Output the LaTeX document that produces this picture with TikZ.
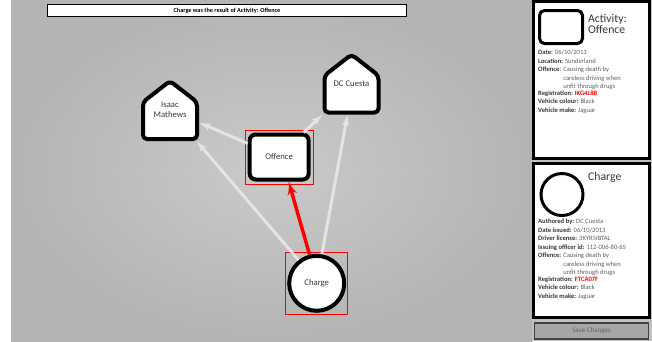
\documentclass[tikz,border=0pt]{standalone}
\usepackage{fontspec}
\setmainfont{Carlito}
\usetikzlibrary{arrows, positioning, shapes.geometric}

\definecolor{canvasgrey}{RGB}{180,180,180}
\definecolor{canvaslight}{RGB}{202,202,202}
\definecolor{sidegrey}{RGB}{192,192,192}
\definecolor{edgegrey}{RGB}{228,228,228}
\definecolor{labelgrey}{RGB}{55,55,55}
\definecolor{valuegrey}{RGB}{95,95,95}
\definecolor{buttongrey}{RGB}{166,166,166}

\newcommand{\infolab}[1]{\textbf{\textcolor{labelgrey}{#1}}}
\newcommand{\housenode}[4]{%
  \draw[housebox] (#2-27,#3+29) -- (#2-27,#3-8) -- (#2,#3-29) -- (#2+27,#3-8) -- (#2+27,#3+29) -- cycle;
  \node[housetext] (#1) at (#2,#3) {#4};}

\begin{document}
\begin{tikzpicture}[
  x=1pt, y=-1pt,
  nodebox/.style={draw=black, line width=4pt, fill=white, font=\fontsize{8.7}{10}\selectfont, text=labelgrey},
  housebox/.style={draw=black, line width=4pt, fill=white, rounded corners=4pt, line join=round},
  housetext/.style={minimum width=58pt, minimum height=62pt, inner sep=0pt, align=center, font=\fontsize{8.7}{10}\selectfont, text=labelgrey},
  selbox/.style={draw=red, line width=1pt},
  link/.style={color=edgegrey, line width=3pt},
  panel/.style={draw=black, line width=3pt, fill=white},
  panelhead/.style={anchor=north west, inner sep=0pt, align=left, font=\fontsize{11.7}{11.5}\selectfont, text=labelgrey},
  info/.style={anchor=north west, inner sep=0pt, align=left, font=\fontsize{6.6}{8.45}\selectfont, text=valuegrey}]

  \useasboundingbox (0,0) rectangle (652,341);
  % canvas and side column
  \fill[white] (0,0) rectangle (652,341);
  \shade[inner color=canvaslight, outer color=canvasgrey] (11,0) rectangle (532,341);
  \fill[sidegrey] (532,0) rectangle (652,341);

  % banner
  \node[draw=black, line width=1.2pt, fill=white, minimum width=359pt, minimum height=12pt, inner sep=0pt,
        font=\fontsize{6.2}{7}\selectfont\bfseries] (banner) at (227,10.5) {Charge was the result of Activity: Offence};

  % graph
  \housenode{isaac}{170}{110}{Isaac\\Mathews}
  \housenode{dc}{351.5}{83.5}{DC Cuesta}
  \node[nodebox, rounded corners=6pt, minimum width=59pt, minimum height=45pt] (offence) at (279.2,157) {Offence};
  \node[nodebox, circle, minimum size=55pt, inner sep=0pt] (charge) at (316.7,283.3) {Charge};
  % selection frames
  \draw[selbox] ([xshift=-2.5pt, yshift=-2.5pt]offence.south west) rectangle ([xshift=2.5pt, yshift=2.5pt]offence.north east);
  \draw[selbox] ([xshift=-1.5pt, yshift=-1.5pt]charge.west |- charge.south) rectangle ([xshift=1.5pt, yshift=1.5pt]charge.east |- charge.north);

  \path[->, >=latex', link]
    (charge.128) edge (isaac)
    (charge.80) edge ([xshift=-4pt]dc.south)
    (offence) edge (isaac)
    (offence.45) edge (dc.south west);
  \path[->, >=latex', color=red, line width=3.5pt]
    (charge.104) edge (offence.-69);

  % activity panel
  \draw[panel] (533.5,1.5) rectangle (649.5,158.5);
  \node[draw=black, line width=3pt, rounded corners=5pt, fill=white, minimum width=43pt, minimum height=33pt] (acticon) at (561,27) {};
  \node[panelhead] (acthead) at (588,14) {Activity:\\Offence};
  \node[info] (actinfo) at (538,50) {%
    \infolab{Date:} 06/10/2013\\
    \infolab{Location:} Sunderland\\
    \infolab{Offence:} \parbox[t]{70pt}{Causing death by\\careless driving when\\unfit through drugs}\\
    \infolab{Registration:} \textbf{\textcolor{red}{IKG4L8B}}\\
    \infolab{Vehicle colour:} Black\\
    \infolab{Vehicle make:} Jaguar};

  % charge panel
  \draw[panel] (533.5,163.5) rectangle (649.5,317.5);
  \node[draw=black, line width=3pt, circle, fill=white, minimum size=42pt, inner sep=0pt] (chargeicon) at (562,194.5) {};
  \node[panelhead] (chargehead) at (588,172) {Charge};
  \node[info] (chargeinfo) at (538,219) {%
    \infolab{Authored by:} DC Cuesta\\
    \infolab{Date issued:} 06/10/2013\\
    \infolab{Driver license:} 3KYR5IBTAL\\
    \infolab{Issuing officer id:} 112-006-80-65\\
    \infolab{Offence:} \parbox[t]{70pt}{Causing death by\\careless driving when\\unfit through drugs}\\
    \infolab{Registration:} \textbf{\textcolor{red}{FTCA07F}}\\
    \infolab{Vehicle colour:} Black\\
    \infolab{Vehicle make:} Jaguar};

  % button
  \node[draw=black!75, line width=1.2pt, fill=buttongrey, minimum width=114pt, minimum height=16pt, inner sep=0pt,
        font=\fontsize{7}{8}\selectfont, text=black!60] (savebtn) at (591.5,331) {Save Changes};
\end{tikzpicture}
\end{document}
